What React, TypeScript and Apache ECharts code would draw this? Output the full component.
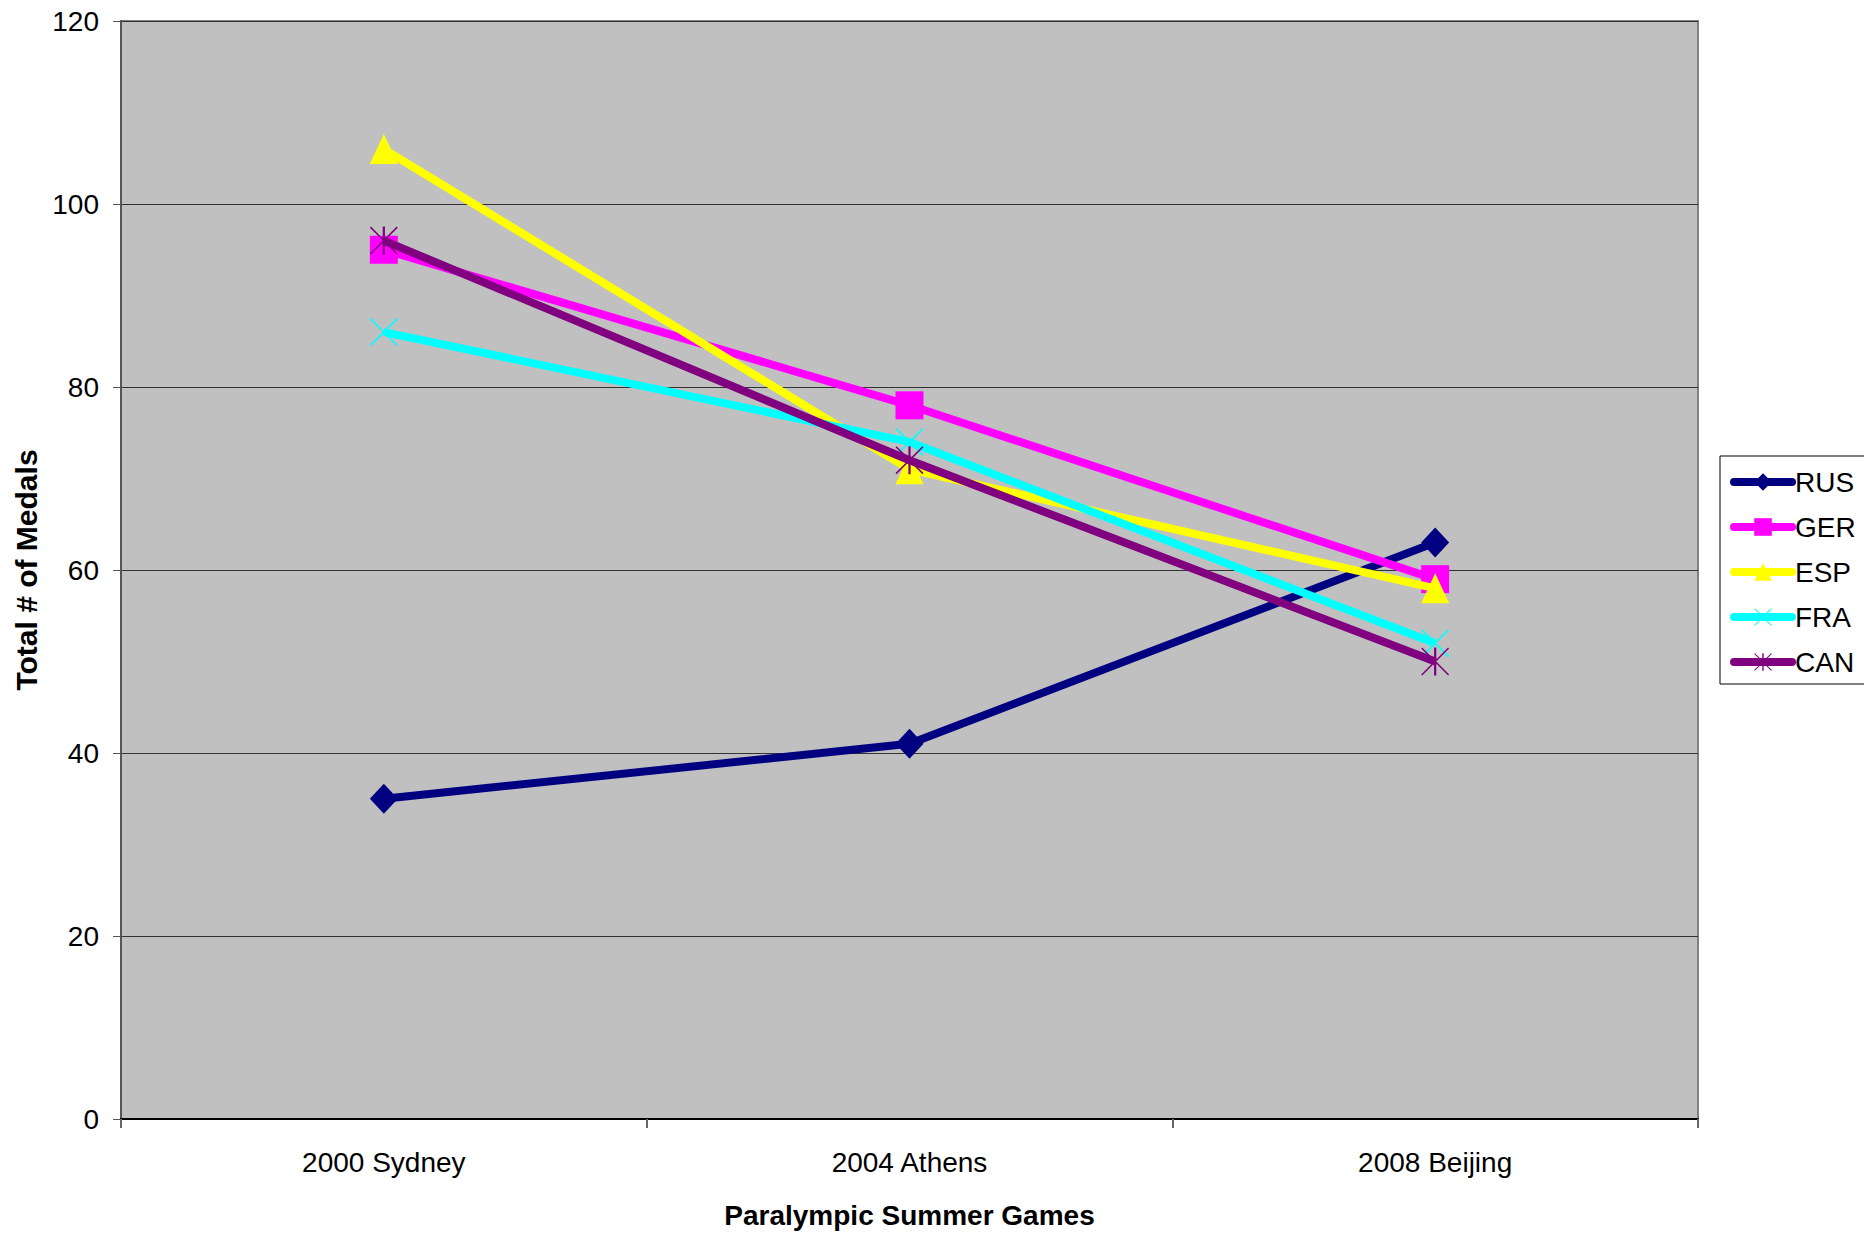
import React, { useEffect, useRef } from "react";
import * as echarts from "echarts";

const categories = ["2000 Sydney", "2004 Athens", "2008 Beijing"];
const seriesNames = ["RUS", "GER", "ESP", "FRA", "CAN"];
const rus = [35, 41, 63];
const ger = [95, 78, 59];
const esp = [106, 71, 58];
const fra = [86, 74, 52];
const can = [96, 72, 50];
const yTicks = { min: 0, max: 120, interval: 20 };

const colors = ["#000080", "#FF00FF", "#FFFF00", "#00FFFF", "#800080"];
const xPath =
  "path://M0,4 L4,0 L50,46 L96,0 L100,4 L54,50 L100,96 L96,100 L50,54 L4,100 L0,96 L46,50 Z";
const starPath =
  "path://M0,4 L4,0 L50,46 L96,0 L100,4 L54,50 L100,96 L96,100 L50,54 L4,100 L0,96 L46,50 Z M46,0 L54,0 L54,100 L46,100 Z";
const symbols = ["diamond", "rect", "triangle", xPath, starPath];
const symbolSizes: any[] = [[28, 30], 28, [28, 30], 28, 28];

const FONT = 'Arial, "Liberation Sans", sans-serif';

export default function App() {
  const ref = useRef<HTMLDivElement>(null);
  useEffect(() => {
    if (!ref.current) return;
    const chart = echarts.init(ref.current, undefined, { renderer: "svg" });
    const data = [rus, ger, esp, fra, can];
    chart.setOption({
      animation: false,
      backgroundColor: "#ffffff",
      textStyle: { fontFamily: FONT },
      grid: {
        left: 121,
        top: 21,
        right: 166,
        bottom: 115,
        containLabel: false,
        outerBoundsMode: "none",
        show: true,
        backgroundColor: "#C0C0C0",
        borderColor: "#808080",
        borderWidth: 2,
      },
      legend: {
        orient: "vertical",
        left: 1720,
        top: 456,
        padding: [12, 40, 8, 10],
        borderColor: "#000000",
        borderWidth: 1,
        backgroundColor: "#ffffff",
        itemWidth: 58,
        itemHeight: 22,
        itemGap: 17,
        lineStyle: { width: 8, cap: "round" },
        textStyle: { fontSize: 28, color: "#000", fontFamily: FONT, padding: [0, 0, 0, -2] },
        data: seriesNames,
      },
      xAxis: {
        type: "category",
        data: categories,
        boundaryGap: true,
        name: "Paralympic Summer Games",
        nameLocation: "middle",
        nameGap: 82,
        nameTextStyle: { fontSize: 28, fontWeight: "bold", color: "#000", fontFamily: FONT },
        axisLine: { show: true, lineStyle: { color: "#000", width: 2 } },
        axisTick: { show: true, length: 9, alignWithLabel: false, lineStyle: { color: "#666", width: 2 } },
        axisLabel: { fontSize: 28, color: "#000", margin: 29, fontFamily: FONT },
        splitLine: { show: false },
      },
      yAxis: {
        type: "value",
        min: yTicks.min,
        max: yTicks.max,
        interval: yTicks.interval,
        name: "Total # of Medals",
        nameLocation: "middle",
        nameGap: 80,
        nameTextStyle: { fontSize: 30, fontWeight: "bold", color: "#000", fontFamily: FONT },
        axisLine: { show: true, lineStyle: { color: "#555", width: 2 } },
        axisTick: { show: true, length: 8, lineStyle: { color: "#555", width: 1 } },
        axisLabel: { fontSize: 28, color: "#000", margin: 22, fontFamily: FONT },
        splitLine: { show: true, lineStyle: { color: "#333", width: 1 } },
      },
      series: seriesNames.map((name, i) => ({
        name,
        type: "line",
        data: data[i],
        symbol: symbols[i],
        symbolSize: symbolSizes[i],
        showAllSymbol: true,
        lineStyle: { color: colors[i], width: 8 },
        itemStyle: { color: colors[i], borderWidth: 0 },
        emphasis: { disabled: true },
        z: 2 + i,
      })),
    });
    return () => chart.dispose();
  }, []);
  return (
    <div
      ref={ref}
      style={{ position: "absolute", left: 0, top: 0, width: 1864, height: 1234 }}
    />
  );
}
